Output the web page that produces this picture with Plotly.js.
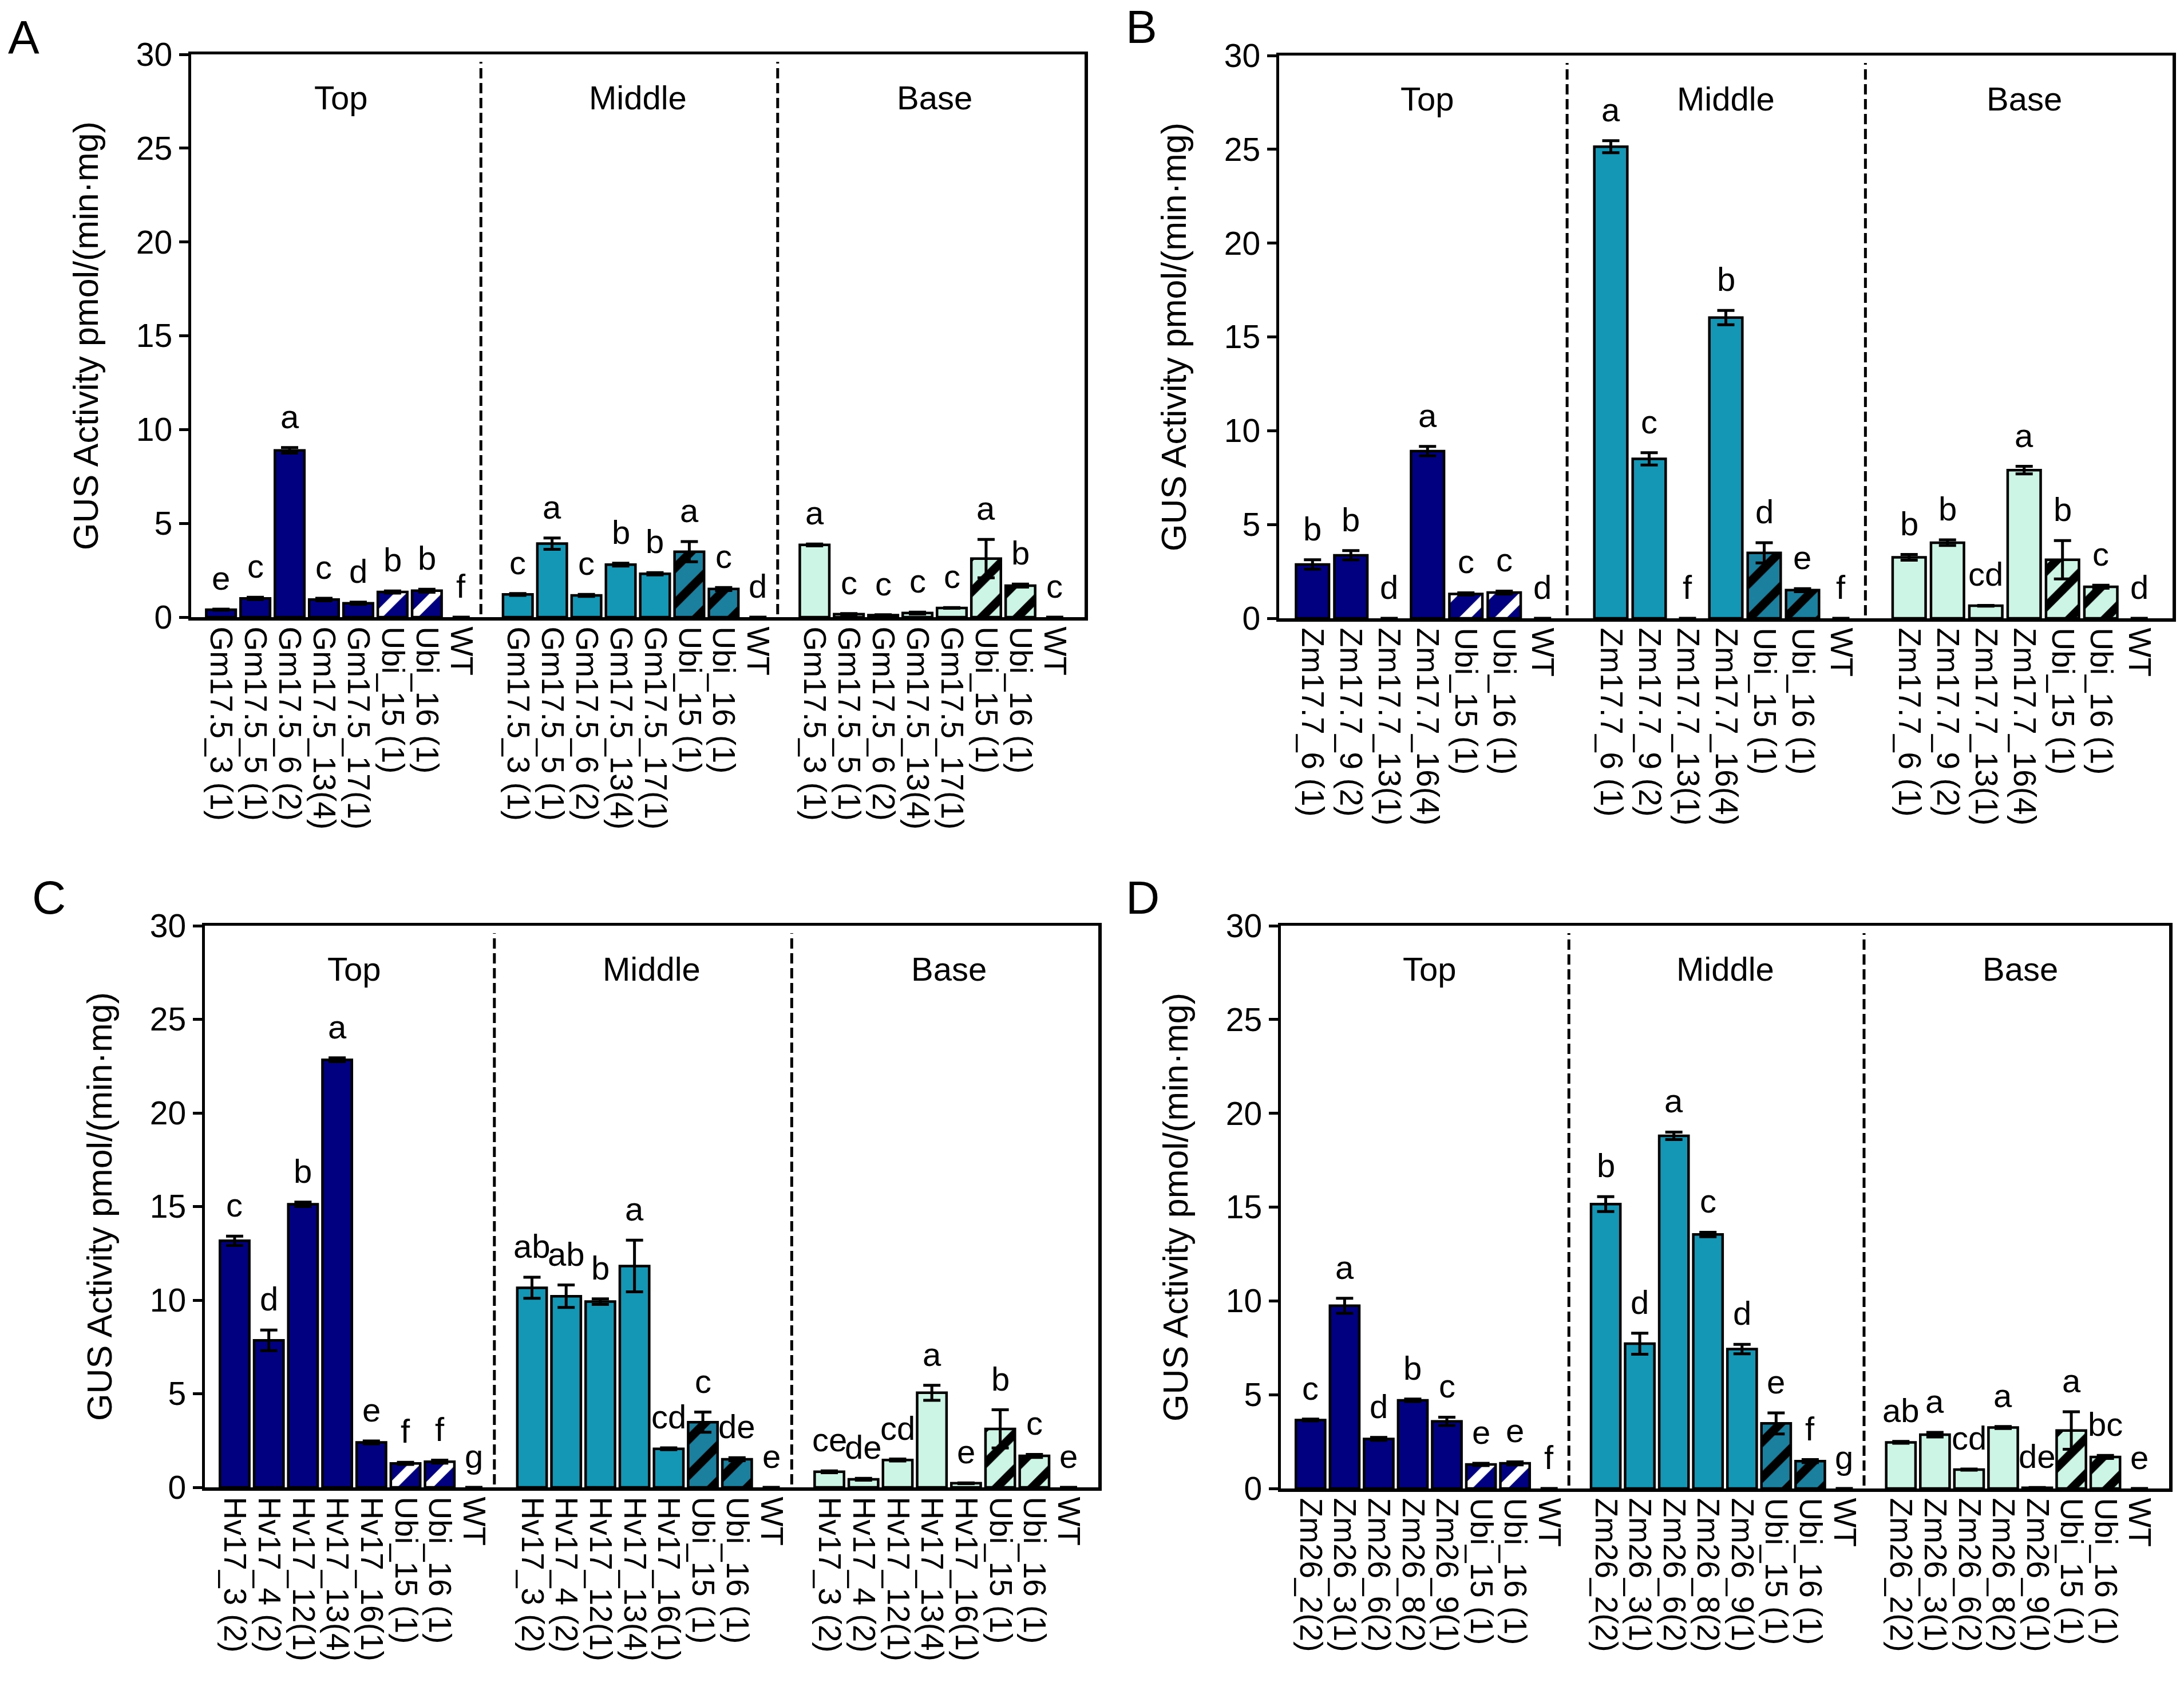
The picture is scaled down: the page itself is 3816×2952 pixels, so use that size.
<!DOCTYPE html>
<html><head><meta charset="utf-8">
<script src="https://cdn.plot.ly/plotly-3.0.1.min.js"></script>
<style>html,body{margin:0;padding:0;background:#fff}#chart{width:3816px;height:2952px}</style>
</head><body><div id="chart"></div>
<script>
const groupNames = ["Top", "Middle", "Base"];

// ---------- Panel A ----------
const labelsA = ["Gm17.5_3 (1)", "Gm17.5_5 (1)", "Gm17.5_6 (2)", "Gm17.5_13(4)", "Gm17.5_17(1)", "Ubi_15 (1)", "Ubi_16 (1)", "WT"];
const A_top      = [0.40, 1.00, 8.89, 0.94, 0.74, 1.34, 1.41, 0];
const A_top_err  = [0.03, 0.06, 0.15, 0.07, 0.06, 0.06, 0.08, 0];
const A_top_sig  = ["e", "c", "a", "c", "d", "b", "b", "f"];
const A_mid      = [1.21, 3.92, 1.16, 2.80, 2.31, 3.49, 1.50, 0];
const A_mid_err  = [0.05, 0.30, 0.05, 0.08, 0.06, 0.54, 0.08, 0];
const A_mid_sig  = ["c", "a", "c", "b", "b", "a", "c", "d"];
const A_base     = [3.85, 0.16, 0.11, 0.22, 0.49, 3.12, 1.68, 0];
const A_base_err = [0.05, 0.03, 0.02, 0.05, 0.02, 1.02, 0.08, 0];
const A_base_sig = ["a", "c", "c", "c", "c", "a", "b", "c"];

// ---------- Panel B ----------
const labelsB = ["Zm17.7_6 (1)", "Zm17.7_9 (2)", "Zm17.7_13(1)", "Zm17.7_16(4)", "Ubi_15 (1)", "Ubi_16 (1)", "WT"];
const B_top      = [2.87, 3.36, 0, 8.91, 1.30, 1.37, 0];
const B_top_err  = [0.25, 0.25, 0, 0.25, 0.06, 0.08, 0];
const B_top_sig  = ["b", "b", "d", "a", "c", "c", "d"];
const B_mid      = [25.14, 8.50, 0, 16.03, 3.49, 1.50, 0];
const B_mid_err  = [0.32, 0.33, 0, 0.38, 0.54, 0.08, 0];
const B_mid_sig  = ["a", "c", "f", "b", "d", "e", "f"];
const B_base     = [3.25, 4.03, 0.67, 7.90, 3.12, 1.68, 0];
const B_base_err = [0.15, 0.15, 0.02, 0.20, 1.02, 0.08, 0];
const B_base_sig = ["b", "b", "cd", "a", "b", "c", "d"];

// ---------- Panel C ----------
const labelsC = ["Hv17_3 (2)", "Hv17_4 (2)", "Hv17_12(1)", "Hv17_13(4)", "Hv17_16(1)", "Ubi_15 (1)", "Ubi_16 (1)", "WT"];
const C_top      = [13.17, 7.85, 15.12, 22.84, 2.40, 1.28, 1.37, 0];
const C_top_err  = [0.25, 0.55, 0.12, 0.10, 0.08, 0.06, 0.08, 0];
const C_top_sig  = ["c", "d", "b", "a", "e", "f", "f", "g"];
const C_mid      = [10.66, 10.21, 9.92, 11.82, 2.06, 3.48, 1.50, 0];
const C_mid_err  = [0.56, 0.60, 0.15, 1.38, 0.05, 0.54, 0.08, 0];
const C_mid_sig  = ["ab", "ab", "b", "a", "cd", "c", "de", "e"];
const C_base     = [0.83, 0.43, 1.46, 5.05, 0.22, 3.12, 1.68, 0];
const C_base_err = [0.05, 0.05, 0.05, 0.40, 0.02, 1.02, 0.08, 0];
const C_base_sig = ["ce", "de", "cd", "a", "e", "b", "c", "e"];

// ---------- Panel D ----------
const labelsD = ["Zm26_2(2)", "Zm26_3(1)", "Zm26_6(2)", "Zm26_8(2)", "Zm26_9(1)", "Ubi_15 (1)", "Ubi_16 (1)", "WT"];
const D_top      = [3.65, 9.74, 2.64, 4.70, 3.58, 1.28, 1.34, 0];
const D_top_err  = [0.05, 0.40, 0.08, 0.07, 0.22, 0.06, 0.08, 0];
const D_top_sig  = ["c", "a", "d", "b", "c", "e", "e", "f"];
const D_mid      = [15.16, 7.72, 18.80, 13.54, 7.43, 3.47, 1.46, 0];
const D_mid_err  = [0.40, 0.56, 0.20, 0.12, 0.25, 0.56, 0.08, 0];
const D_mid_sig  = ["b", "d", "a", "c", "d", "e", "f", "g"];
const D_base     = [2.46, 2.87, 1.01, 3.25, 0.04, 3.09, 1.68, 0];
const D_base_err = [0.05, 0.12, 0.03, 0.05, 0.01, 1.00, 0.08, 0];
const D_base_sig = ["ab", "a", "cd", "a", "de", "a", "bc", "e"];

const panelLetters = ["A", "B", "C", "D"];
const yTitle = "GUS Activity pmol/(min·mg)";

// ---------- styling / layout ----------
const W = 3816, H = 2952;
const FONT = "Liberation Sans, Arial, Helvetica, sans-serif";
const groupStyle = [
  {fill: "#000080", hatchBg: "#000080", hatchFg: "#ffffff"},
  {fill: "#1497B4", hatchBg: "#1B809D", hatchFg: "#000000"},
  {fill: "#CCF5E6", hatchBg: "#CCF5E6", hatchFg: "#000000"}
];
const panels = [
  {labels: labelsA, data: [[A_top, A_top_err, A_top_sig], [A_mid, A_mid_err, A_mid_sig], [A_base, A_base_err, A_base_sig]],
   xpx: [334, 1895], ypx: [95, 1078], step: 8.65, letter: [41, 64]},
  {labels: labelsB, data: [[B_top, B_top_err, B_top_sig], [B_mid, B_mid_err, B_mid_sig], [B_base, B_base_err, B_base_sig]],
   xpx: [2235, 3796], ypx: [97, 1080], step: 7.78, letter: [1995, 47]},
  {labels: labelsC, data: [[C_top, C_top_err, C_top_sig], [C_mid, C_mid_err, C_mid_sig], [C_base, C_base_err, C_base_sig]],
   xpx: [358, 1919], ypx: [1617, 2598], step: 8.70, letter: [85, 1567]},
  {labels: labelsD, data: [[D_top, D_top_err, D_top_sig], [D_mid, D_mid_err, D_mid_sig], [D_base, D_base_err, D_base_sig]],
   xpx: [2238, 3790], ypx: [1617, 2600], step: 8.66, letter: [1997, 1567]}
];

const traces = [];
const layout = {
  width: W, height: H, margin: {l: 0, r: 0, t: 0, b: 0},
  paper_bgcolor: "#ffffff", plot_bgcolor: "#ffffff",
  showlegend: false, font: {family: FONT, color: "#000", size: 56},
  annotations: [], shapes: [], bargap: 0
};

function pick(arr, idx) { return idx.map(i => arr[i]); }

panels.forEach((p, k) => {
  const sfx = k === 0 ? "" : String(k + 1);
  const xr = "x" + sfx, yr = "y" + sfx;
  const n = p.labels.length;
  const m = 0.87;
  const tickvals = [], ticktext = [];
  const ubiIdx = [], plainIdx = [];
  p.labels.forEach((l, i) => (l.startsWith("Ubi") ? ubiIdx : plainIdx).push(i));
  p.data.forEach((d, g) => {
    const [vals, errs, sig] = d;
    const xs = vals.map((_, i) => g * p.step + i);
    const st = groupStyle[g];
    xs.forEach((x, i) => { tickvals.push(x); ticktext.push(p.labels[i]); });
    // plain bars
    traces.push({
      type: "bar", x: pick(xs, plainIdx), y: pick(vals, plainIdx), xaxis: xr, yaxis: yr, width: 0.86,
      marker: {color: st.fill, line: {color: "#000", width: pick(vals, plainIdx).map(v => v > 0 ? 4.5 : 0)}},
      error_y: {type: "data", array: pick(errs, plainIdx), visible: true, color: "#000", thickness: 5, width: 15},
      hoverinfo: "skip"
    });
    // hatched control bars
    traces.push({
      type: "bar", x: pick(xs, ubiIdx), y: pick(vals, ubiIdx), xaxis: xr, yaxis: yr, width: 0.86,
      marker: {
        color: st.hatchBg, line: {color: "#000", width: 4.5},
        pattern: {shape: "/", fgcolor: st.hatchFg, bgcolor: st.hatchBg, fgopacity: 1,
                  fillmode: "overlay", size: 44, solidity: 0.34}
      },
      error_y: {type: "data", array: pick(errs, ubiIdx), visible: true, color: "#000", thickness: 5, width: 15},
      hoverinfo: "skip"
    });
    xs.forEach((x, i) => {
      layout.annotations.push({
        xref: xr, yref: yr, x: x, y: vals[i] + errs[i], yshift: 20,
        text: sig[i], showarrow: false, xanchor: "center", yanchor: "bottom",
        font: {family: FONT, size: 58, color: "#000"}
      });
    });
    layout.annotations.push({
      xref: xr, yref: yr, x: g * p.step + (n - 1) / 2, y: 27.7,
      text: groupNames[g], showarrow: false, xanchor: "center", yanchor: "middle",
      font: {family: FONT, size: 58, color: "#000"}
    });
    if (g < 2) {
      const xm = (g * p.step + n - 1 + (g + 1) * p.step) / 2 - 0.25;
      layout.shapes.push({
        type: "line", xref: xr, yref: yr, x0: xm, x1: xm, y0: 0.15, y1: 29.6,
        line: {color: "#000", width: 5, dash: "18px,8px"}
      });
    }
  });
  const xmax = 2 * p.step + n - 1;
  layout["xaxis" + sfx] = {
    domain: [p.xpx[0] / W, p.xpx[1] / W], anchor: yr,
    range: [-m, xmax + m], tickmode: "array", tickvals: tickvals, ticktext: ticktext,
    tickangle: 90, ticks: "", showgrid: false, zeroline: false,
    showline: true, linecolor: "#000", linewidth: 5.5, mirror: true,
    tickfont: {family: FONT, size: 55, color: "#000"}, fixedrange: true
  };
  layout["yaxis" + sfx] = {
    domain: [1 - p.ypx[1] / H, 1 - p.ypx[0] / H], anchor: xr,
    range: [0, 30], tickmode: "array", tickvals: [0, 5, 10, 15, 20, 25, 30],
    ticks: "outside", ticklen: 16, tickwidth: 5, tickcolor: "#000",
    showgrid: false, zeroline: false, showline: true, linecolor: "#000", linewidth: 5.5, mirror: true,
    tickfont: {family: FONT, size: 57, color: "#000"},
    title: {text: yTitle, font: {family: FONT, size: 61, color: "#000"}, standoff: 48},
    fixedrange: true
  };
  layout.annotations.push({
    xref: "paper", yref: "paper", x: p.letter[0] / W, y: 1 - p.letter[1] / H,
    text: panelLetters[k], showarrow: false, xanchor: "center", yanchor: "middle",
    font: {family: FONT, size: 82, color: "#000"}
  });
});

Plotly.newPlot("chart", traces, layout, {staticPlot: true, displayModeBar: false});
</script>
</body></html>
